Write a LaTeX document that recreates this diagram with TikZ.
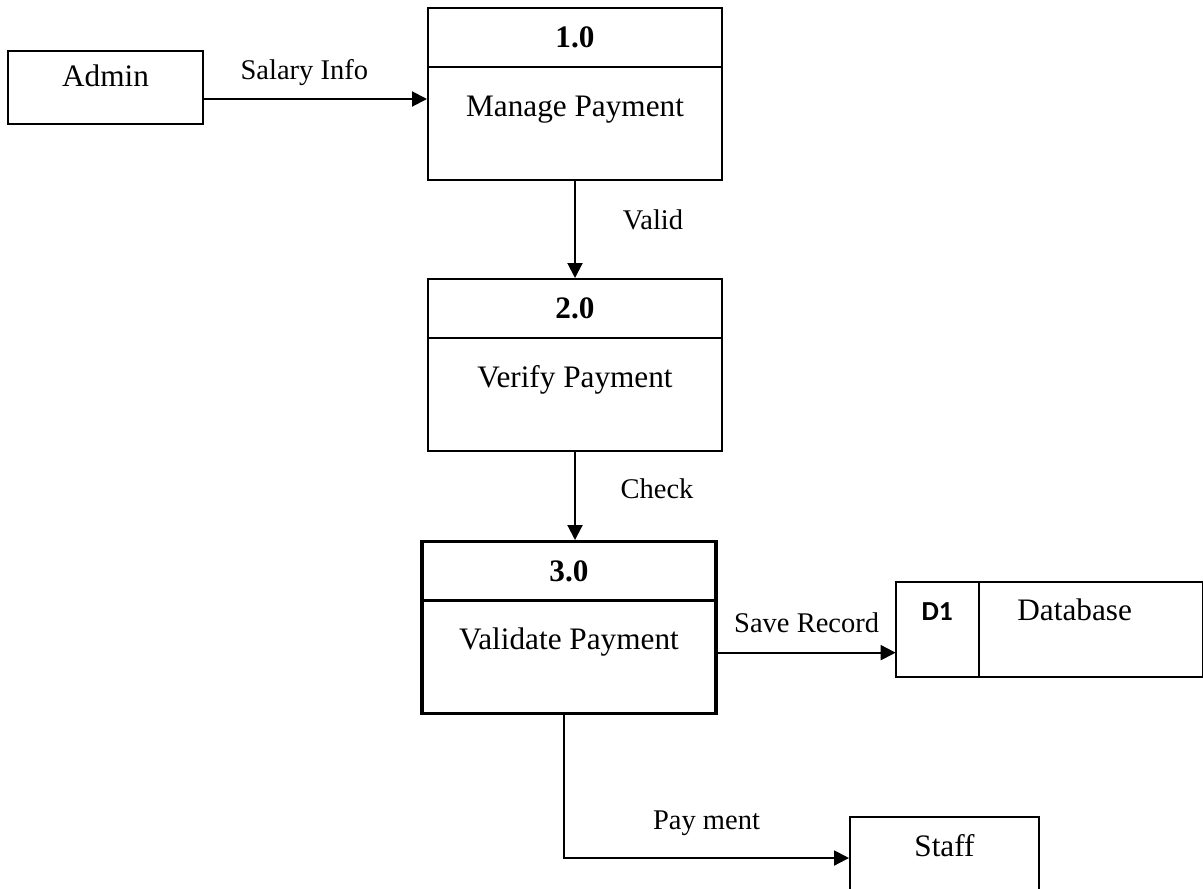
\documentclass[tikz,border=0pt]{standalone}
\usepackage{fontspec}
\setmainfont{Liberation Serif}
\newfontfamily\storefont{Carlito}
\usepackage{tikz}
\usetikzlibrary{arrows.meta, positioning}

\begin{document}
\begin{tikzpicture}[
        x=0.4pt, y=0.4pt,
        font=\fontsize{12.5}{15}\selectfont,
        entity/.style = {draw, line width=0.8pt, rectangle, inner sep=2pt, text height=10pt, text depth=11pt},
        process/.style = {draw, line width=0.8pt, rectangle, minimum width=117.6pt, minimum height=68.8pt, inner sep=2pt, text height=20pt, text depth=2.2pt},
        prochead/.style = {draw, line width=0.8pt, rectangle, minimum width=117.6pt, minimum height=23.6pt, inner sep=2pt, anchor=north, font=\fontsize{12.5}{15}\selectfont\bfseries},
        store/.style = {draw, line width=0.8pt, rectangle, inner sep=2pt, outer sep=0pt, minimum height=38pt, text height=8pt, text depth=15pt},
        flow/.style = {line width=0.8pt, -{Triangle[length=6pt, width=6pt]}},
        flowlabel/.style = {font=\fontsize{11.4}{13}\selectfont}
    ]
        \useasboundingbox (0,0) rectangle (1203,-888);

        % Processes, each with its number in a header strip
        \node [process, anchor=north] (p1) at (575,-7) {Manage Payment};
        \node [prochead] (h1) at (p1.north) {1.0};
        \node [process, below=38.8pt of p1] (p2) {Verify Payment};
        \node [prochead] (h2) at (p2.north) {2.0};
        \node [process, below=35.2pt of p2, xshift=-2.4pt, line width=1.3pt] (p3) {Validate Payment};
        \node [prochead, line width=1.3pt] (h3) at (p3.north) {3.0};

        % External entities and data store
        \node [entity, minimum width=78pt, minimum height=29.2pt, left=89.2pt of p1, yshift=2.6pt] (admin) {Admin};
        \node [entity, minimum width=75.6pt, minimum height=32.8pt] (staff) at (944.5,-858) {Staff};
        \node [store, minimum width=33.2pt, right=71.2pt of p3, yshift=-0.6pt, font=\storefont\fontsize{11}{13}\selectfont\bfseries] (d1) {D1};
        \node [store, minimum width=89.6pt, right=0pt of d1] (db) {Database\hspace*{12.8pt}};

        % Data flows
        \draw [flow] ([yshift=-4.6pt]admin.east) -- node[flowlabel, pos=0.45, yshift=10.4pt] {Salary Info} ([yshift=-4.6pt]admin.east -| p1.west);
        \draw [flow] (p1.south) -- node[flowlabel, pos=0.4, xshift=31.2pt] {Valid} (p2.north);
        \draw [flow] (p2.south) -- node[flowlabel, pos=0.42, xshift=32.8pt] {Check} (p2.south |- p3.north);
        \draw [flow] ([yshift=-10pt]p3.east) -- node[flowlabel, yshift=12pt] {Save Record} ([yshift=-10pt]p3.east -| d1.west);
        \draw [flow] ([xshift=-2pt]p3.south) |- node[flowlabel, pos=0.75, yshift=14pt] {Pay ment} (staff.west);
    \end{tikzpicture}
\end{document}
